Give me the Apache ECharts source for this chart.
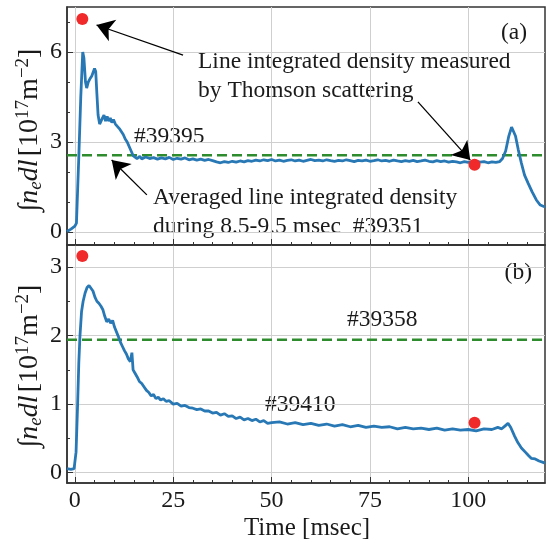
<!DOCTYPE html>
<html>
<head>
<meta charset="utf-8">
<script src="https://cdn.jsdelivr.net/npm/echarts@6/dist/echarts.min.js"></script>
<style>
  html, body { margin: 0; padding: 0; background: #fff; }
  #chart { width: 550px; height: 544px; }
</style>
</head>
<body>
<div id="chart"></div>
<script>
// panel (a): shot #39395
var timeA = [-2, -1, 0, 0.4, 1.0, 1.5, 2.0, 2.3, 2.7, 3.0, 3.4, 3.8, 4.3, 4.7, 5.0, 5.3, 5.6, 5.9, 6.3, 6.7,
  7.0, 7.4, 7.8, 8.2, 8.6, 9.0, 9.4, 9.8, 10.3, 10.8, 11.3, 11.8, 12.3, 12.8, 13.3, 13.8, 14.3, 14.8, 15.3, 15.8,
  16.5, 17, 18, 19, 20, 21, 22, 23, 24, 25, 26, 27, 28, 29, 30, 31, 32, 33, 34, 35,
  36, 37, 38, 39, 40, 41, 42, 43, 44, 45, 46, 47, 48, 49, 50, 51, 52, 53, 54, 55,
  56, 57, 58, 59, 60, 61, 62, 63, 64, 65, 66, 67, 68, 69, 70, 71, 72, 73, 74, 75,
  76, 77, 78, 79, 80, 81, 82, 83, 84, 85, 86, 87, 88, 89, 90, 91, 92, 93, 94, 95,
  96, 97, 98, 99, 100, 101, 102, 103, 104, 105, 106, 107, 108, 108.7, 109.5, 110.3, 111.0, 111.5, 112.0, 112.7,
  113.5, 114.3, 115.2, 116.2, 117.3, 118.3, 119.2, 119.5];
var densA = [0.02, 0.1, 0.2, 0.3, 2.5, 4.5, 6.0, 5.8, 5.0, 4.8, 5.0, 5.1, 5.2, 5.25, 5.45, 5.35, 4.6, 3.9, 3.6, 3.55,
  3.8, 3.9, 3.7, 3.85, 3.7, 3.8, 3.65, 3.75, 3.6, 3.55, 3.45, 3.35, 3.25, 3.1, 3.0, 2.85, 2.7, 2.55, 2.5, 2.45,
  2.52, 2.44, 2.5, 2.45, 2.48, 2.43, 2.47, 2.44, 2.49, 2.42, 2.46, 2.43, 2.47, 2.41, 2.44, 2.4, 2.43, 2.39, 2.42, 2.38,
  2.34, 2.31, 2.35, 2.32, 2.36, 2.33, 2.37, 2.34, 2.38, 2.36, 2.4, 2.37, 2.41, 2.38, 2.42, 2.37, 2.4, 2.36, 2.39, 2.41,
  2.37, 2.4, 2.36, 2.39, 2.42, 2.38, 2.4, 2.37, 2.41, 2.38, 2.36, 2.39, 2.37, 2.41, 2.38, 2.35, 2.39, 2.37, 2.4, 2.36,
  2.38, 2.41, 2.37, 2.39, 2.36, 2.4, 2.37, 2.35, 2.38, 2.36, 2.39, 2.35, 2.37, 2.4, 2.36, 2.34, 2.38, 2.35, 2.37, 2.33,
  2.36, 2.34, 2.31, 2.35, 2.32, 2.34, 2.36, 2.33, 2.35, 2.31, 2.34, 2.32, 2.35, 2.45, 2.7, 3.2, 3.5, 3.45, 3.2, 2.75,
  2.3, 1.9, 1.63, 1.35, 1.07, 0.9, 0.85, 0.86];

// panel (b): shot #39410
var timeB = [-2, -1, -0.2, 0.3, 0.7, 1.0, 1.3, 1.7, 2.1, 2.6, 3.1, 3.6, 4.1, 4.6, 5.1, 5.6, 6.1, 6.6, 7.1, 7.6,
  8.1, 8.6, 9.1, 9.6, 10.1, 10.6, 11.1, 11.6, 12.1, 12.6, 13.1, 13.6, 14.1, 14.5, 14.8, 15.3, 15.8, 16.4, 17, 17.6,
  18.2, 18.8, 19.4, 20, 20.6, 21.2, 21.8, 22.5, 23.2, 24, 25, 26, 27, 28, 29, 30, 31, 32, 33, 34,
  35, 36, 37, 38, 39, 40, 41, 42, 43, 44, 45, 46, 47, 48, 49, 50, 52, 54, 56, 58,
  60, 62, 64, 66, 68, 70, 72, 74, 76, 78, 80, 82, 84, 86, 88, 90, 92, 94, 96, 98,
  100, 102, 104, 106, 107.5, 108.5, 109.3, 110.1, 110.8, 111.8, 112.6, 113.5, 114.5, 115.3, 116, 117, 118, 119, 119.5];
var densB = [0.06, 0.05, 0.06, 0.3, 1.0, 1.6, 2.0, 2.35, 2.5, 2.62, 2.7, 2.73, 2.71, 2.65, 2.56, 2.5, 2.47, 2.43, 2.38, 2.28,
  2.2, 2.24, 2.18, 2.22, 2.12, 2.05, 1.98, 1.9, 1.84, 1.78, 1.73, 1.66, 1.62, 1.75, 1.5, 1.45, 1.4, 1.33, 1.3, 1.25,
  1.2, 1.17, 1.12, 1.14, 1.08, 1.1, 1.06, 1.08, 1.04, 1.05, 1.0, 1.01, 0.97, 0.98, 0.95, 0.94, 0.92, 0.93, 0.9, 0.9,
  0.87, 0.88, 0.84, 0.86, 0.82, 0.83, 0.79, 0.81, 0.77, 0.79, 0.76, 0.78, 0.74, 0.76, 0.72, 0.73, 0.74, 0.71, 0.73, 0.7,
  0.72, 0.69, 0.71, 0.68, 0.7, 0.67, 0.69, 0.66, 0.68, 0.66, 0.67, 0.64, 0.66, 0.64, 0.65, 0.63, 0.65, 0.62, 0.64, 0.62,
  0.63, 0.61, 0.64, 0.63, 0.66, 0.64, 0.68, 0.72, 0.66, 0.53, 0.44, 0.36, 0.3, 0.25, 0.21, 0.2, 0.17, 0.15, 0.14];

// averaged line integrated density (dashed)
var avgA = 2.56;   // #39351
var avgB = 1.94;   // #39358

// Thomson scattering points
var thomsonT = [1.9, 101.6];
var thomsonA = [7.1, 2.24];
var thomsonB = [3.16, 0.73];

var xMajor = [0, 25, 50, 75, 100];
var xMinor = [5, 10, 15, 20, 30, 35, 40, 45, 55, 60, 65, 70, 80, 85, 90, 95, 105, 110, 115];
var yMajorA = [0, 3, 6];
var yMinorA = [1, 2, 4, 5, 7];
var yMajorB = [0, 1, 2, 3];
var yMinorB = [0.5, 1.5, 2.5];

function pairs(xs, ys) {
  var out = [];
  for (var i = 0; i < xs.length; i++) out.push([xs[i], ys[i]]);
  return out;
}

var FONT = 'Liberation Serif';
var ink = '#1a1a1a';
var spine = '#333333';

function xAx(grid, major, minor, labels) {
  return {
    gridIndex: grid, type: 'value', position: 'bottom', min: -2, max: 119.5,
    axisLine: { show: !minor, onZero: false, lineStyle: { color: spine, width: 1.5 } },
    axisTick: { show: true, inside: true, length: minor ? 3 : 6, customValues: major,
      lineStyle: { color: spine, width: 1 } },
    axisLabel: { show: labels, customValues: major, margin: 6,
      fontFamily: FONT, fontSize: 24, color: ink },
    splitLine: { show: !minor, lineStyle: { color: '#cfcfcf', width: 1 } }
  };
}
function yAx(grid, min, max, major, minor) {
  return {
    gridIndex: grid, type: 'value', position: 'left', min: min, max: max,
    axisLine: { show: !minor, onZero: false, lineStyle: { color: spine, width: 1.5 } },
    axisTick: { show: true, inside: true, length: minor ? 3 : 6, customValues: major,
      lineStyle: { color: spine, width: 1 } },
    axisLabel: { show: !minor, customValues: major, margin: 5,
      fontFamily: FONT, fontSize: 24, color: ink },
    splitLine: { show: !minor, lineStyle: { color: '#cfcfcf', width: 1 } }
  };
}

var arrowLine = {
  silent: true,
  symbol: ['none', 'arrow'],
  symbolSize: 17,
  label: { show: false },
  lineStyle: { color: '#000', width: 1.3, type: 'solid' },
  emphasis: { disabled: true }
};

var rich = {
  i: { fontFamily: FONT, fontSize: 28, fontStyle: 'italic', fill: ink },
  s: { fontFamily: FONT, fontSize: 19, fontStyle: 'italic', fill: ink, padding: [11, 0, 0, 0] },
  n: { fontFamily: FONT, fontSize: 28, fill: ink },
  p: { fontFamily: FONT, fontSize: 19, fill: ink, padding: [0, 0, 14, 0] }
};
var yLabel = '{i|∫n}{s|e}{i|dl} {n|[10}{p|17}{n|m}{p|−2}{n|]}';

function txt(x, y, text, align) {
  return { type: 'text', x: x, y: y, silent: true,
    style: { text: text, font: '23.5px "' + FONT + '"', fill: ink,
      align: align || 'left', verticalAlign: 'middle' } };
}

var chart = echarts.init(document.getElementById('chart'), null, { renderer: 'canvas' });
chart.setOption({
  animation: false,
  backgroundColor: '#fff',
  grid: [
    { left: 67, top: 7, width: 478, height: 238, show: true, borderColor: spine, borderWidth: 1.5 },
    { left: 67, top: 245, width: 478, height: 238, show: true, borderColor: spine, borderWidth: 1.5 }
  ],
  xAxis: [
    xAx(0, xMajor, false, false),
    xAx(0, xMinor, true, false),
    xAx(1, xMajor, false, true),
    xAx(1, xMinor, true, false)
  ],
  yAxis: [
    yAx(0, -0.43, 7.5, yMajorA, false),
    yAx(0, -0.43, 7.5, yMinorA, true),
    yAx(1, -0.15, 3.32, yMajorB, false),
    yAx(1, -0.15, 3.32, yMinorB, true)
  ],
  series: [
    { type: 'line', xAxisIndex: 0, yAxisIndex: 0, data: [[-2, avgA], [119.5, avgA]],
      showSymbol: false, silent: true, lineStyle: { color: '#2e8b2e', width: 2.5, type: [10, 5] } },
    { type: 'line', xAxisIndex: 0, yAxisIndex: 0, data: pairs(timeA, densA),
      showSymbol: false, silent: true, lineStyle: { color: '#2878b5', width: 2.8 },
      markLine: Object.assign({}, arrowLine, { data: [
        [{ coord: [27.5, 5.9] }, { coord: [5.5, 6.9] }],
        [{ coord: [87.2, 4.34] }, { coord: [100.5, 2.4] }],
        [{ coord: [18.3, 1.24] }, { coord: [9.35, 2.4] }]
      ] }) },
    { type: 'scatter', xAxisIndex: 0, yAxisIndex: 0, data: pairs(thomsonT, thomsonA),
      symbolSize: 12, silent: true, itemStyle: { color: '#f02a2a', opacity: 1 }, z: 5 },
    { type: 'line', xAxisIndex: 2, yAxisIndex: 2, data: [[-2, avgB], [119.5, avgB]],
      showSymbol: false, silent: true, lineStyle: { color: '#2e8b2e', width: 2.5, type: [10, 5] } },
    { type: 'line', xAxisIndex: 2, yAxisIndex: 2, data: pairs(timeB, densB),
      showSymbol: false, silent: true, lineStyle: { color: '#2878b5', width: 2.8 } },
    { type: 'scatter', xAxisIndex: 2, yAxisIndex: 2, data: pairs(thomsonT, thomsonB),
      symbolSize: 12, silent: true, itemStyle: { color: '#f02a2a', opacity: 1 }, z: 5 }
  ],
  graphic: [
    txt(198, 62, 'Line integrated density measured'),
    txt(198, 91, 'by Thomson scattering'),
    txt(134, 137, '#39395'),
    txt(153, 198, 'Averaged line integrated density'),
    txt(153, 227, 'during 8.5-9.5 msec  #39351'),
    txt(527, 33, '(a)', 'right'),
    txt(532, 273, '(b)', 'right'),
    txt(347, 320, '#39358'),
    txt(265, 405, '#39410'),
    { type: 'text', x: 307, y: 528, silent: true,
      style: { text: 'Time [msec]', font: '25px "' + FONT + '"', fill: ink, align: 'center', verticalAlign: 'middle' } },
    { type: 'text', x: 30, y: 130, rotation: Math.PI / 2, silent: true,
      style: { text: yLabel, rich: rich, align: 'center', verticalAlign: 'middle' } },
    { type: 'text', x: 30, y: 366, rotation: Math.PI / 2, silent: true,
      style: { text: yLabel, rich: rich, align: 'center', verticalAlign: 'middle' } }
  ]
});
</script>
</body>
</html>
